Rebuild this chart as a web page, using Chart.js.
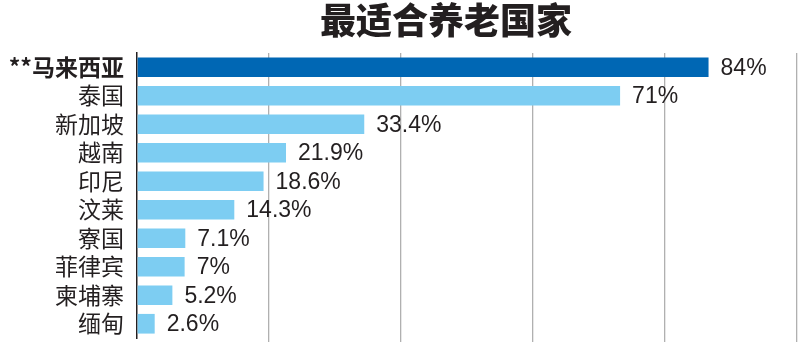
<!DOCTYPE html>
<html>
<head>
<meta charset="utf-8">
<script src="https://cdn.jsdelivr.net/npm/chart.js@4/dist/chart.umd.min.js"></script>
<style>
    html, body { margin: 0; padding: 0; background: #fff; }
    #wrap { width: 800px; height: 342px; position: relative; }
</style>
</head>
<body>
<div id="wrap"><canvas id="chart"></canvas></div>
<script>
const chartTitle = '最适合养老国家';
const countries = ['**马来西亚', '泰国', '新加坡', '越南', '印尼', '汶莱', '寮国', '菲律宾', '柬埔寨', '缅甸'];
const shares = [84, 71, 33.4, 21.9, 18.6, 14.3, 7.1, 7, 5.2, 2.6];
const shareLabels = ['84%', '71%', '33.4%', '21.9%', '18.6%', '14.3%', '7.1%', '7%', '5.2%', '2.6%'];

const CJK = '"Noto Sans CJK SC", "Noto Sans", sans-serif';
const LATIN = '"Liberation Sans", Arial, sans-serif';

// title sits a bit right of the canvas centre, like the print version
const titlePlugin = {
    id: 'titleText',
    afterDraw(chart) {
        const ctx = chart.ctx;
        ctx.save();
        ctx.font = '900 36px ' + CJK;
        ctx.fillStyle = '#231f20';
        ctx.textAlign = 'center';
        ctx.textBaseline = 'middle';
        ctx.fillText(chartTitle, 446, 20);
        ctx.restore();
    }
};

// value text to the right of each bar
const valuePlugin = {
    id: 'valueText',
    afterDatasetsDraw(chart) {
        const ctx = chart.ctx;
        const meta = chart.getDatasetMeta(0);
        ctx.save();
        ctx.font = '23px ' + LATIN;
        ctx.fillStyle = '#231f20';
        ctx.textAlign = 'left';
        ctx.textBaseline = 'middle';
        meta.data.forEach((bar, i) => {
            ctx.fillText(shareLabels[i], bar.x + 12, bar.y + 1);
        });
        ctx.restore();
    }
};

new Chart(document.getElementById('chart'), {
    type: 'bar',
    data: {
        labels: countries,
        datasets: [{
            data: shares,
            backgroundColor: countries.map((c, i) => i === 0 ? '#0067b4' : '#7dcdf2'),
            borderWidth: 0,
            barPercentage: 0.69,
            categoryPercentage: 1
        }]
    },
    options: {
        indexAxis: 'y',
        responsive: true,
        maintainAspectRatio: false,
        animation: false,
        layout: { padding: { top: 53, right: 3, bottom: 0, left: 0 } },
        plugins: {
            legend: { display: false },
            title: { display: false },
            tooltip: { enabled: false }
        },
        scales: {
            x: {
                min: 0,
                max: 97,
                afterBuildTicks(axis) {
                    axis.ticks = [0, 19.4, 38.8, 58.2, 77.6, 97].map(v => ({ value: v }));
                },
                ticks: { display: false },
                grid: {
                    color: ctx => ctx.index === 0 ? 'rgba(0,0,0,0)' : '#b0b0b0',
                    lineWidth: 1.3,
                    drawTicks: true,
                    tickLength: 4
                },
                border: { display: false }
            },
            y: {
                afterFit(axis) {
                    axis.width = 137;
                    axis.paddingTop = 0;
                    axis.paddingBottom = 0;
                },
                grid: { display: false, drawTicks: false },
                border: { display: true, color: '#231f20', width: 1.5 },
                ticks: {
                    autoSkip: false,
                    padding: 13,
                    color: '#231f20',
                    font: ctx => ({
                        family: CJK,
                        size: 23,
                        weight: ctx.index === 0 ? 'bold' : 'normal'
                    })
                }
            }
        }
    },
    plugins: [titlePlugin, valuePlugin]
});
</script>
</body>
</html>
